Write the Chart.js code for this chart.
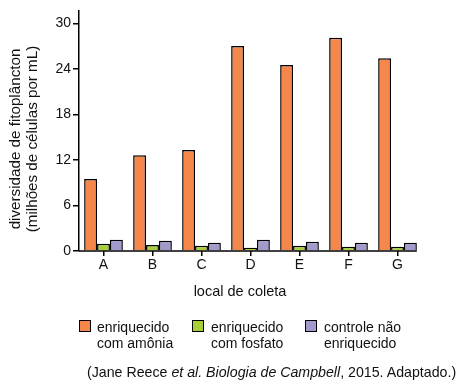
<!DOCTYPE html>
<html>
<head>
<meta charset="utf-8">
<script src="https://cdn.jsdelivr.net/npm/chart.js@4/dist/chart.umd.min.js"></script>
<style>
  html, body { margin:0; padding:0; background:#fff; }
  #wrap { position:relative; width:463px; height:386px; font-family:"Liberation Sans", Arial, sans-serif; color:#111; }
  canvas { position:absolute; left:0; top:0; }
  .leg { position:absolute; font-size:14px; line-height:16px; }
  .box { position:absolute; width:10px; height:10px; border:1.5px solid #000; }
  #cap { position:absolute; left:87px; top:364px; font-size:14.2px; white-space:nowrap; }
</style>
</head>
<body>
<div id="wrap">
  <canvas id="c" width="463" height="386"></canvas>
  <div class="box" style="left:79px;top:320px;background:#F5874A"></div>
  <div class="leg" style="left:97px;top:319px">enriquecido<br>com amônia</div>
  <div class="box" style="left:192px;top:320px;background:#A8CF3A"></div>
  <div class="leg" style="left:211px;top:319px">enriquecido<br>com fosfato</div>
  <div class="box" style="left:305px;top:320px;background:#A09ACD"></div>
  <div class="leg" style="left:324px;top:319px">controle não<br>enriquecido</div>
  <div id="cap">(Jane Reece <i>et al. Biologia de Campbell</i>, 2015. Adaptado.)</div>
</div>
<script>
const categories = ["A", "B", "C", "D", "E", "F", "G"];
const amonia   = [9.5, 12.6, 13.3, 27.0, 24.5, 28.1, 25.4];
const fosfato  = [0.95, 0.8, 0.68, 0.42, 0.68, 0.55, 0.55];
const controle = [1.47, 1.34, 1.08, 1.47, 1.21, 1.08, 1.08];
const yTicks   = [0, 6, 12, 18, 24, 30];
const seriesNames = ["enriquecido com amônia", "enriquecido com fosfato", "controle não enriquecido"];
const yTitle = ["diversidade de fitoplâncton", "(milhões de células por mL)"];
const xTitle = "local de coleta";

const FONT = '"Liberation Sans", Arial, sans-serif';

const titlesPlugin = {
  id: 'titles',
  afterDraw(chart) {
    const ctx = chart.ctx;
    ctx.save();
    ctx.fillStyle = '#111';
    ctx.font = '14.5px ' + FONT;
    ctx.textAlign = 'center';
    ctx.textBaseline = 'middle';
    ctx.fillText(xTitle, 240, 292);
    ctx.font = '15.2px ' + FONT;
    ctx.translate(0, 139);
    ctx.rotate(-Math.PI / 2);
    ctx.fillText(yTitle[0], 0, 16);
    ctx.fillText(yTitle[1], 0, 32.5);
    ctx.restore();
  },
  afterDatasetsDraw(chart) {
    const ctx = chart.ctx;
    const area = chart.chartArea;
    const meta = chart.getDatasetMeta(chart.data.datasets.length - 1);
    const last = meta.data[meta.data.length - 1];
    const right = last.x + last.width / 2;
    ctx.save();
    ctx.strokeStyle = '#000';
    ctx.lineWidth = 1.5;
    ctx.beginPath();
    ctx.moveTo(area.left, area.bottom);
    ctx.lineTo(right, area.bottom);
    ctx.stroke();
    ctx.restore();
  }
};

new Chart(document.getElementById('c'), {
  type: 'bar',
  data: {
    labels: categories,
    datasets: [
      { label: seriesNames[0], data: amonia,   backgroundColor: '#F5874A' },
      { label: seriesNames[1], data: fosfato,  backgroundColor: '#A8CF3A' },
      { label: seriesNames[2], data: controle, backgroundColor: '#A09ACD' }
    ].map(d => Object.assign(d, { borderColor: '#000', borderWidth: 1.5, categoryPercentage: 0.79, barPercentage: 1.0 }))
  },
  options: {
    responsive: false,
    animation: false,
    devicePixelRatio: 1,
    layout: { padding: { left: 0, top: 10, right: 41, bottom: 115 } },
    plugins: { legend: { display: false }, tooltip: { enabled: false } },
    scales: {
      x: {
        grid: { display: true, drawOnChartArea: false, offset: false, tickLength: 5, color: '#000', lineWidth: 1.5 },
        border: { display: false },
        ticks: { color: '#111', font: { family: FONT, size: 14 }, padding: 1, maxRotation: 0 },
        afterFit(s) { s.height = 20; }
      },
      y: {
        min: 0, max: 31.7,
        afterBuildTicks(s) { s.ticks = yTicks.map(v => ({ value: v })); },
        grid: { display: true, drawOnChartArea: false, tickLength: 6, color: '#000', lineWidth: 1.5 },
        border: { display: true, color: '#000', width: 1.5 },
        ticks: { color: '#111', font: { family: FONT, size: 14 }, padding: 2 },
        afterFit(s) { s.width = 79; }
      }
    }
  },
  plugins: [titlesPlugin]
});
</script>
</body>
</html>
